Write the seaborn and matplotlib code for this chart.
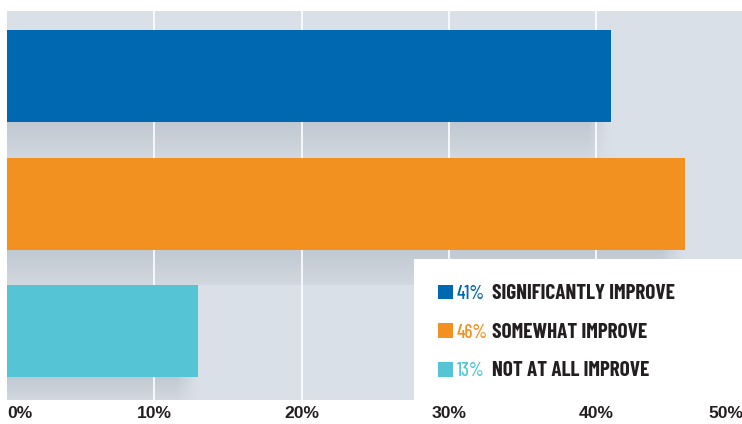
import matplotlib
matplotlib.use("Agg")
import numpy as np
import pandas as pd
import seaborn as sns
import matplotlib.pyplot as plt
from matplotlib import font_manager
from matplotlib.patches import Rectangle

# Survey answers
labels = ["SIGNIFICANTLY IMPROVE", "SOMEWHAT IMPROVE", "NOT AT ALL IMPROVE"]
values = [41, 46, 13]
colors = ["#0067b1", "#f29020", "#55c5d5"]
tick_values = [0, 10, 20, 30, 40, 50]
tick_labels = ["0%", "10%", "20%", "30%", "40%", "50%"]

df = pd.DataFrame({"label": labels, "value": values})

sns.set_theme(style="white")
plt.rcParams["font.family"] = ["Liberation Sans", "DejaVu Sans"]

# pick a condensed grotesque for the key
available = {f.name for f in font_manager.fontManager.ttflist}
narrow = None
for cand in ["Barlow Condensed", "Roboto Condensed", "Archivo Narrow",
             "Liberation Sans Narrow", "Asap Condensed"]:
    if cand in available:
        narrow = dict(family=[cand, "DejaVu Sans"])
        break
if narrow is None:
    narrow = dict(family=["DejaVu Sans"], fontstretch="condensed")

W, H = 742, 424
fig = plt.figure(figsize=(W / 100, H / 100), dpi=100)
fig.patch.set_facecolor("white")


def fx(x):
    return x / W


def fy(y):
    return 1 - y / H


ax = fig.add_axes([fx(7), fy(400), 736.5 / W, 389 / H])
ax.set_facecolor("#dae0e7")

BAR_W = 0.72
sns.barplot(data=df, x="value", y="label", hue="label", palette=colors,
            orient="h", width=BAR_W, saturation=1, legend=False,
            linewidth=0, ax=ax, zorder=3)

y_top, y_bot = -0.51, 2.537

# soft drop shadows beneath each bar
shadow_rgb = np.array([0.755, 0.785, 0.822])
for i, v in enumerate(values):
    top = i + BAR_W / 2
    bottom = min(i + 1 - BAR_W / 2, y_bot)
    ny, nx = 60, 300
    right = v + 0.4
    xs = np.linspace(0, right, nx)
    ys = np.linspace(0, 1, ny)
    fade_x = np.clip((v - xs) / 1.5, 0, 1) ** 1.2
    fade_y = 1 - 0.65 * ys
    img = np.zeros((ny, nx, 4))
    img[..., :3] = shadow_rgb
    img[..., 3] = fade_y[:, None] * fade_x[None, :]
    ax.imshow(img, extent=(0, right, bottom, top), origin="upper",
              aspect="auto", zorder=1, interpolation="bilinear")

for t in tick_values[1:-1]:
    ax.axvline(t, color="white", lw=1.2, zorder=2)

ax.set_xlim(0, 50)
ax.set_ylim(y_bot, y_top)
for s in ax.spines.values():
    s.set_visible(False)
ax.set_ylabel("")
ax.set_xlabel("")
ax.set_yticks([])
ax.set_xticks(tick_values)
ax.set_xticklabels(tick_labels, fontsize=12.6, fontweight="bold", color="#231f20")
ax.tick_params(axis="x", length=0, pad=4.5)
tl = ax.get_xticklabels()
tl[0].set_ha("left")
tl[-1].set_ha("right")

# key panel
fig.patches.append(Rectangle((fx(414), fy(400)), 1 - fx(414), (400 - 259) / H,
                             transform=fig.transFigure, facecolor="white",
                             edgecolor="none", zorder=5))

baselines = [299, 337.5, 376.5]
pct_texts, lab_texts = [], []
for lab, val, col, yb in zip(labels, values, colors, baselines):
    fig.patches.append(Rectangle((fx(438), fy(yb)), 14.5 / W, 14.5 / H,
                                 transform=fig.transFigure, facecolor=col,
                                 edgecolor="none", zorder=6))
    pct_texts.append(fig.text(fx(457), fy(yb), f"{val}%", color=col, fontsize=15,
                              fontweight="medium", va="baseline", ha="left",
                              zorder=7, **narrow))
    lab_texts.append(fig.text(fx(492), fy(yb), lab, color="#231f20", fontsize=15,
                              fontweight="bold", va="baseline", ha="left",
                              zorder=7, **narrow))

# size the key text to its column widths
renderer = fig.canvas.get_renderer()
w_lab = lab_texts[0].get_window_extent(renderer).width
w_pct = max(t.get_window_extent(renderer).width for t in pct_texts)
s_lab = min(15 * 183 / w_lab, 16.5)
s_pct = min(15 * 31 / w_pct, 16.5)
for t in lab_texts:
    t.set_fontsize(s_lab)
for t in pct_texts:
    t.set_fontsize(s_pct)

fig.savefig("out.png", dpi=100, facecolor="white")
